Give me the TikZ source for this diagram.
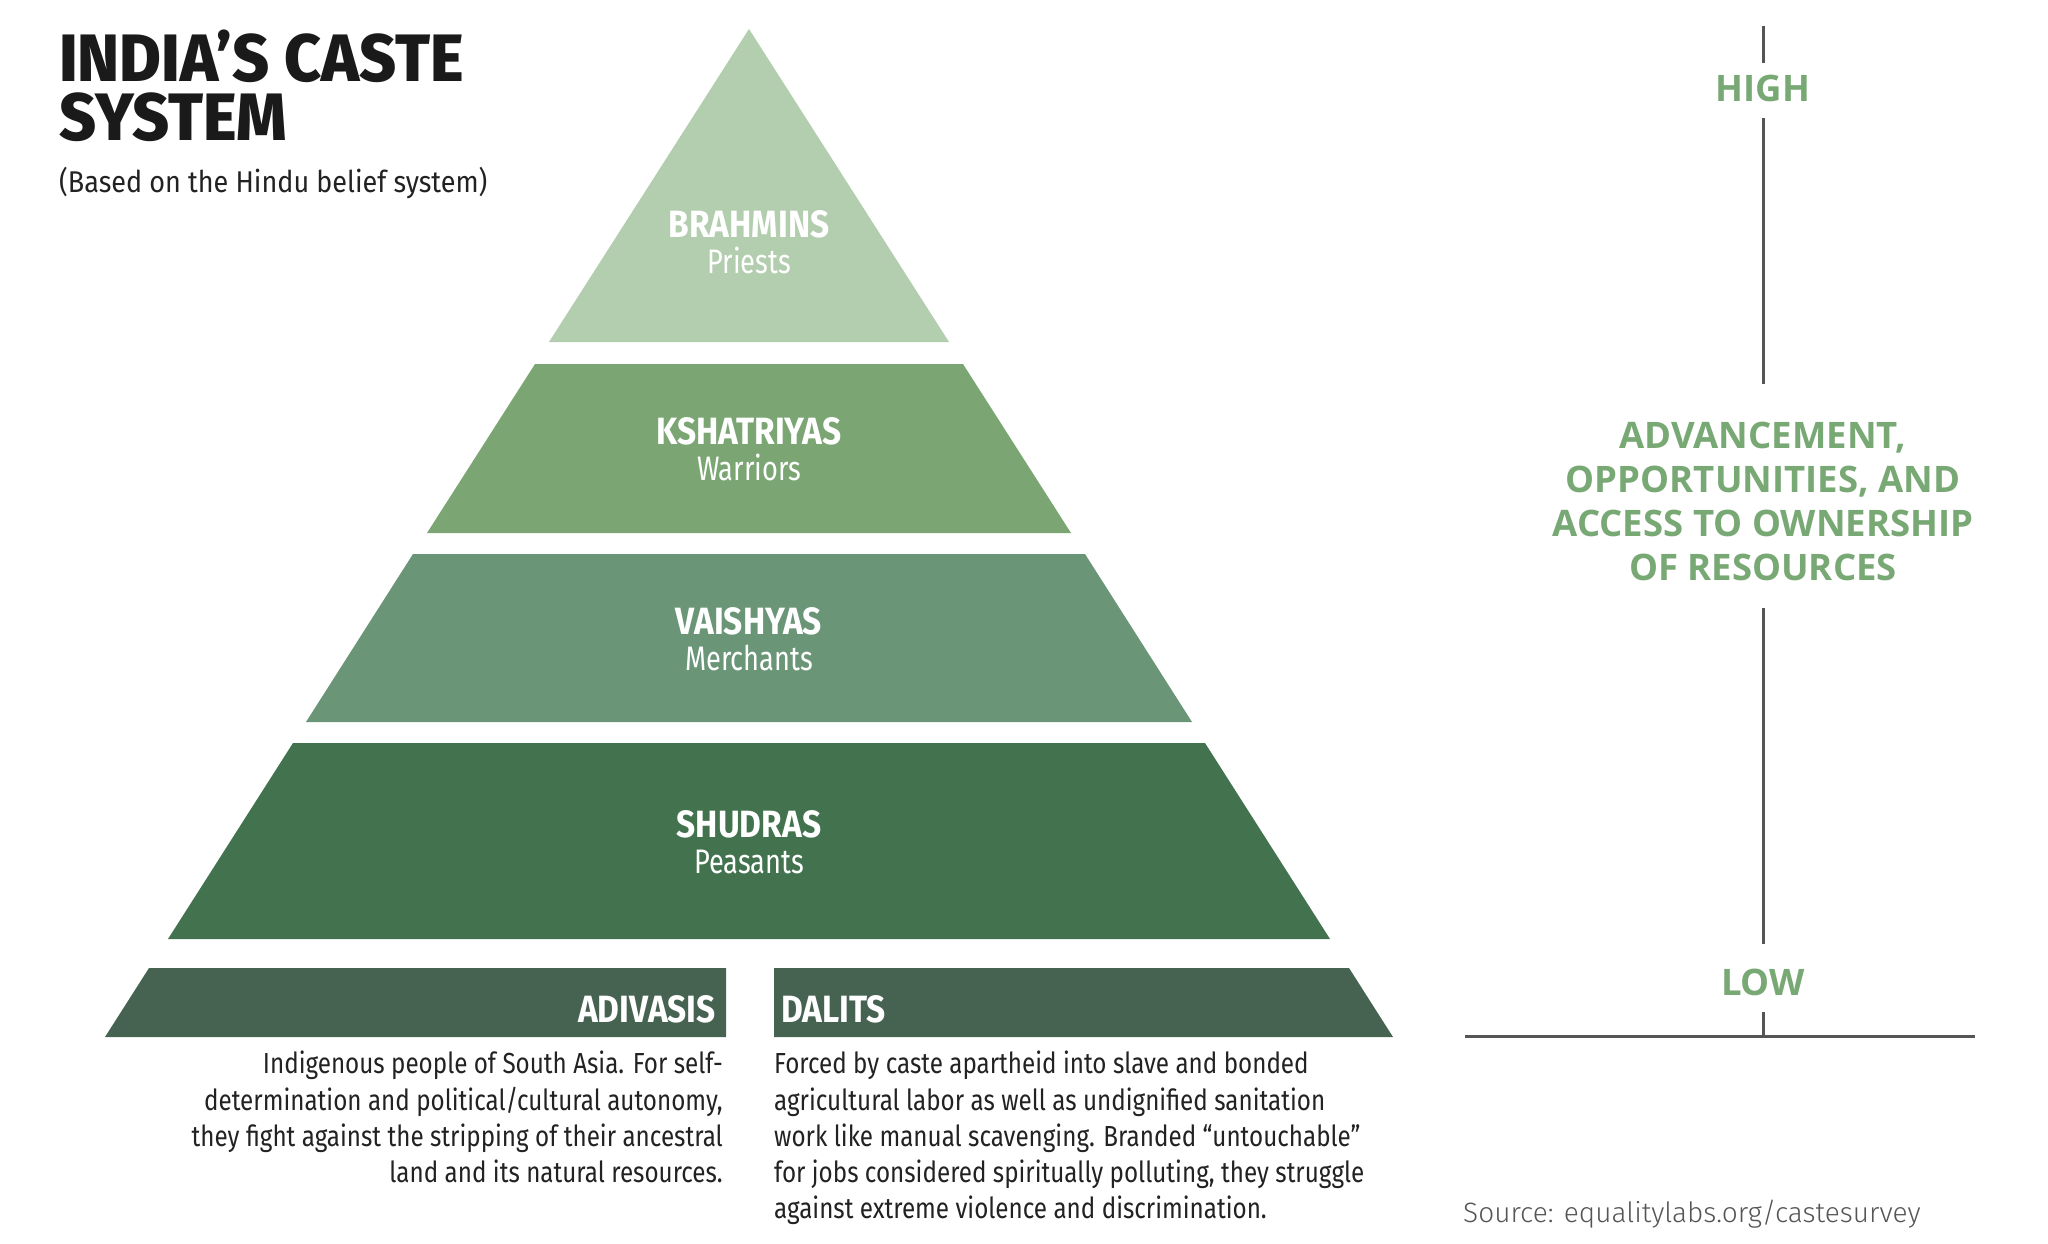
\documentclass[tikz,border=0pt]{standalone}
\usepackage{fontspec}
\setmainfont{Fira Sans}
\newfontfamily\condfont[FakeStretch=0.8]{Fira Sans}
\newfontfamily\bodyfont[FakeStretch=0.835]{Fira Sans}
\newfontfamily\subfont[FakeStretch=0.9]{Fira Sans}
\newfontfamily\labelfont[FakeStretch=0.88]{Fira Sans}
\newfontfamily\titlefont[FakeStretch=0.955]{Fira Sans ExtraBold}
\newfontfamily\opensans{Open Sans}
\newfontfamily\lightfont{Fira Sans Light}
\definecolor{cbrah}{HTML}{B3CEAE}
\definecolor{ckshat}{HTML}{7BA673}
\definecolor{cvaish}{HTML}{6A9677}
\definecolor{cshud}{HTML}{42734E}
\definecolor{cbase}{HTML}{466352}
\definecolor{cgreen}{HTML}{78A874}
\definecolor{cgray}{HTML}{555555}
\definecolor{ctext}{HTML}{222222}
\definecolor{ctitle}{HTML}{1A1A1A}
\begin{document}
\begin{tikzpicture}[x=1pt,y=-1pt,
  layerlabel/.style={text=white, align=center, inner sep=0pt,
    font=\condfont\fontsize{34}{36}\selectfont},
  baselabel/.style={text=white, inner sep=0pt,
    font=\labelfont\bfseries\fontsize{38}{40}\selectfont},
  bodytext/.style={text=ctext, inner sep=0pt,
    font=\bodyfont\fontsize{29}{36.25}\selectfont},
  titletext/.style={text=ctitle, inner sep=0pt, anchor=north west, align=left,
    font=\titlefont\fontsize{67}{59}\selectfont},
  greentext/.style={text=cgreen, align=center, inner sep=0pt,
    font=\opensans\bfseries\fontsize{36.5}{44}\selectfont},
  axisline/.style={draw=cgray, line width=3pt}
]
\fill[white] (0,0) rectangle (2048,1244);
\useasboundingbox (0,0) rectangle (2048,1244);

% title
\node[titletext] (title) at (59,30) {INDIA’S CASTE\\SYSTEM};
\node[text=ctext, inner sep=0pt, anchor=base west,
  font=\subfont\fontsize{30}{34}\selectfont] (subtitle) at (59,193) {(Based on the Hindu belief system)};

% pyramid layers
\fill[cbrah] (749,29) -- (949,342) -- (549,342) -- cycle;
\fill[ckshat] (535,364) -- (963,364) -- (1071,533) -- (427,533) -- cycle;
\fill[cvaish] (413,554) -- (1085,554) -- (1192,722) -- (306,722) -- cycle;
\fill[cshud] (293,743) -- (1205,743) -- (1330,939) -- (168,939) -- cycle;
\fill[cbase] (149,968) -- (726,968) -- (726,1037) -- (105,1037) -- cycle;
\fill[cbase] (774,968) -- (1349,968) -- (1393,1037) -- (774,1037) -- cycle;

\node[layerlabel] (brahmins) at (749,242) {{\labelfont\bfseries\fontsize{38}{36}\selectfont BRAHMINS}\\Priests};
\node[layerlabel] (kshatriyas) at (749,449) {{\labelfont\bfseries\fontsize{38}{36}\selectfont KSHATRIYAS}\\Warriors};
\node[layerlabel] (vaishyas) at (749,639) {{\labelfont\bfseries\fontsize{38}{36}\selectfont VAISHYAS}\\Merchants};
\node[layerlabel] (shudras) at (749,842) {{\labelfont\bfseries\fontsize{38}{36}\selectfont SHUDRAS}\\Peasants};

\node[baselabel, anchor=base east] (adivasis) at (716,1022) {ADIVASIS};
\node[baselabel, anchor=base west] (dalits) at (781,1022) {DALITS};

\node[bodytext, anchor=north east, align=right] (adivtext) at (723,1051)
 {Indigenous people of South Asia. For self-\\determination and political/cultural autonomy,\\they fight against the stripping of their ancestral\\land and its natural resources.};
\node[bodytext, anchor=north west, align=left] (dalittext) at (774,1051)
 {Forced by caste apartheid into slave and bonded\\agricultural labor as well as undignified sanitation\\work like manual scavenging. Branded “untouchable”\\for jobs considered spiritually polluting, they struggle\\against extreme violence and discrimination.};

% axis
\coordinate (axtop) at (1763,26);
\coordinate (axbot) at (1763,1036);
\coordinate (baseL) at (1465,1036);
\coordinate (baseR) at (1975,1036);
\node[greentext, text height=26pt, text depth=0pt] (high) at (1763,89) {HIGH};
\node[greentext] (mid) at (1763,501)
 {ADVANCEMENT,\\OPPORTUNITIES, AND\\ACCESS TO OWNERSHIP\\OF RESOURCES};
\node[greentext, text height=26pt, text depth=0pt] (low) at (1763,982) {LOW};
\draw[axisline] (axtop) -- ([yshift=13pt]high.north);
\draw[axisline] ([yshift=-16pt]high.south) -- ([yshift=37pt]mid.north);
\draw[axisline] ([yshift=-27pt]mid.south) -- ([yshift=25pt]low.north);
\draw[axisline] ([yshift=-17pt]low.south) -- (axbot);
\draw[axisline] (baseL) -- (baseR);

\node[text=cgray, inner sep=0pt, anchor=base west,
  font=\lightfont\fontsize{28}{34}\selectfont] (source) at (1463,1222) {Source: equalitylabs.org/castesurvey};
\end{tikzpicture}
\end{document}
